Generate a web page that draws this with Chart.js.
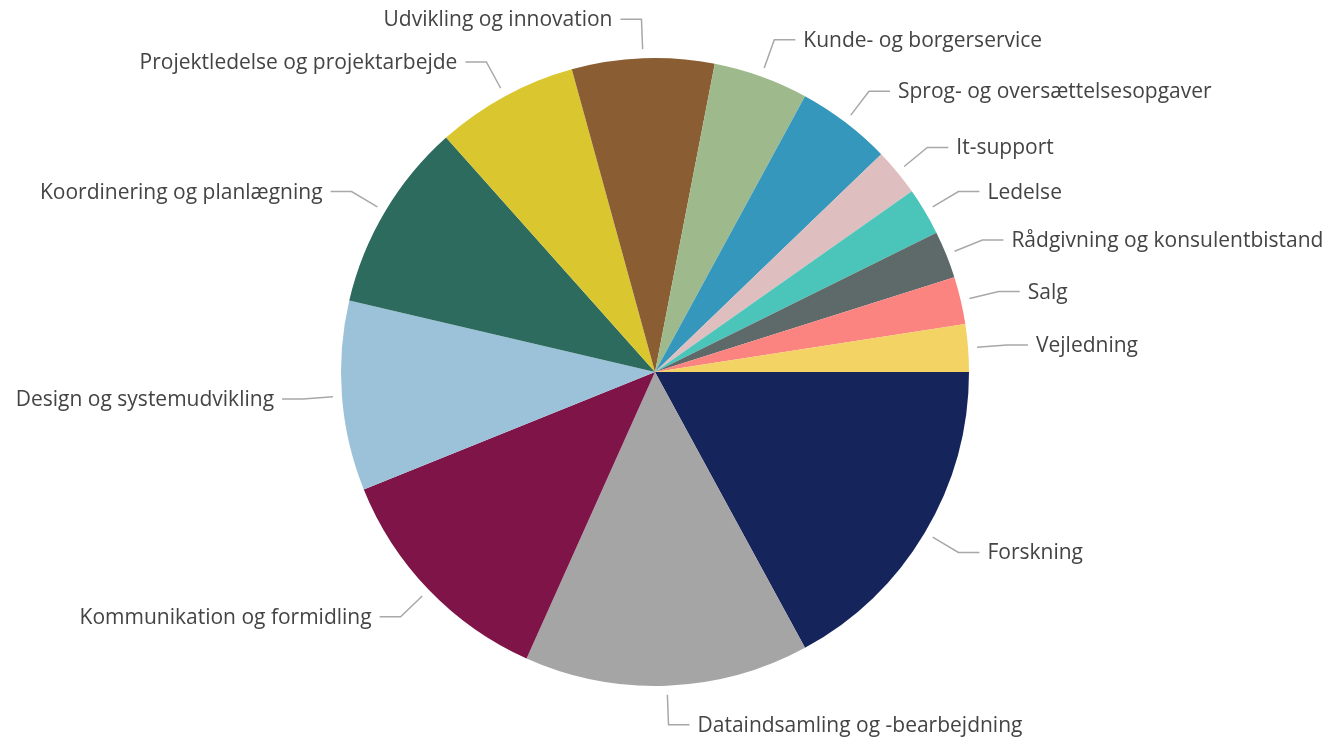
<!DOCTYPE html>
<html>
<head>
<meta charset="utf-8">
<script src="https://cdn.jsdelivr.net/npm/chart.js@4/dist/chart.umd.min.js"></script>
<style>
html,body{margin:0;padding:0;background:#fff;}
#wrap{width:1336px;height:745px;position:relative;}
</style>
</head>
<body>
<div id="wrap"><canvas id="c" width="1336" height="745"></canvas></div>
<script>
const categories = [
  "Forskning",
  "Dataindsamling og -bearbejdning",
  "Kommunikation og formidling",
  "Design og systemudvikling",
  "Koordinering og planlægning",
  "Projektledelse og projektarbejde",
  "Udvikling og innovation",
  "Kunde- og borgerservice",
  "Sprog- og oversættelsesopgaver",
  "It-support",
  "Ledelse",
  "Rådgivning og konsulentbistand",
  "Salg",
  "Vejledning"
];
const values = [7, 6, 5, 4, 4, 3, 3, 2, 2, 1, 1, 1, 1, 1];
const colors = [
  "#15245A", "#A5A5A5", "#7E1447", "#9CC2DA", "#2D6B5E", "#DAC62E", "#8A5D33",
  "#9EBA8D", "#3597BB", "#DFBEC0", "#4BC5BA", "#5E6A6A", "#FC8480", "#F3D364"
];

const labelFont = '21px "Open Sans", "Noto Sans", sans-serif';

const outsideLabels = {
  id: 'outsideLabels',
  afterDatasetsDraw(chart) {
    const ctx = chart.ctx;
    const meta = chart.getDatasetMeta(0);
    ctx.save();
    ctx.font = labelFont;
    ctx.textBaseline = 'middle';
    meta.data.forEach((arc, i) => {
      const p = arc.getProps(['x', 'y', 'startAngle', 'endAngle', 'outerRadius'], true);
      const mid = (p.startAngle + p.endAngle) / 2;
      const cs = Math.cos(mid), sn = Math.sin(mid);
      const r = p.outerRadius;
      const x1 = p.x + cs * (r + 9), y1 = p.y + sn * (r + 9);
      const x2 = p.x + cs * (r + 39), y2 = p.y + sn * (r + 39);
      const dir = cs >= 0 ? 1 : -1;
      const x3 = x2 + dir * 21;
      ctx.strokeStyle = '#A8A8A8';
      ctx.lineWidth = 1.5;
      ctx.beginPath();
      ctx.moveTo(x1, y1);
      ctx.lineTo(x2, y2);
      ctx.lineTo(x3, y2);
      ctx.stroke();
      ctx.fillStyle = '#444444';
      ctx.textAlign = dir > 0 ? 'left' : 'right';
      ctx.fillText(chart.data.labels[i], x3 + dir * 8, y2 + 1);
    });
    ctx.restore();
  }
};

new Chart(document.getElementById('c'), {
  type: 'pie',
  data: {
    labels: categories,
    datasets: [{
      data: values,
      backgroundColor: colors,
      borderWidth: 0
    }]
  },
  options: {
    responsive: false,
    animation: false,
    rotation: 90,
    layout: { padding: { top: 58, bottom: 59, left: 0, right: 26 } },
    plugins: {
      legend: { display: false },
      tooltip: { enabled: false }
    }
  },
  plugins: [outsideLabels]
});
</script>
</body>
</html>
